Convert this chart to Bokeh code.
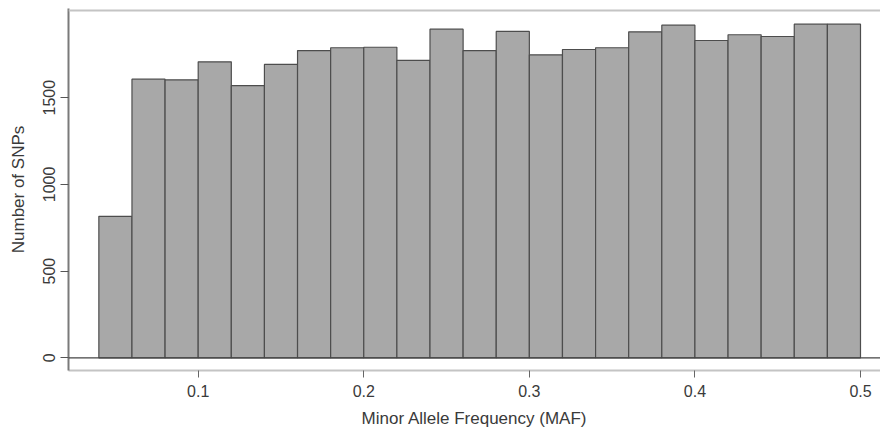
from bokeh.plotting import figure
from bokeh.models import Range1d, Span, FixedTicker
from bokeh.embed import file_html
from bokeh.resources import INLINE

# Histogram of minor allele frequency: bin edges and counts
bin_edges = [0.04, 0.06, 0.08, 0.10, 0.12, 0.14, 0.16, 0.18, 0.20, 0.22, 0.24, 0.26,
             0.28, 0.30, 0.32, 0.34, 0.36, 0.38, 0.40, 0.42, 0.44, 0.46, 0.48, 0.50]
snp_counts = [816, 1607, 1603, 1707, 1570, 1692, 1772, 1788, 1791, 1715, 1895, 1772,
              1882, 1747, 1778, 1788, 1880, 1918, 1830, 1863, 1853, 1924, 1924]
x_ticks = [0.1, 0.2, 0.3, 0.4, 0.5]
y_ticks = [0, 500, 1000, 1500]

FONT = "Liberation Sans"
TXT = "#3a3a3a"

p = figure(width=880, height=430, output_backend="svg", toolbar_location=None,
           x_range=Range1d(0.02167, 0.51208), y_range=Range1d(-73.2, 2014.4),
           min_border_left=68, min_border_right=0, min_border_top=8, min_border_bottom=60)
p.outline_line_color = None
p.grid.visible = False
p.background_fill_color = "white"
p.border_fill_color = "white"

p.quad(left=bin_edges[:-1], right=bin_edges[1:], bottom=0, top=snp_counts,
       fill_color="#a8a8a8", line_color="#4d4d4d", line_width=1.2)

p.add_layout(Span(location=0, dimension="width", line_color="#444444", line_width=1.2))
p.add_layout(Span(location=2003, dimension="width", line_color="#c4c4c4", line_width=2))

xa = p.xaxis[0]
xa.ticker = FixedTicker(ticks=x_ticks)
xa.axis_label = "Minor Allele Frequency (MAF)"
xa.axis_line_color = "#c4c4c4"
xa.axis_line_width = 2
xa.major_tick_line_color = "#666666"
xa.major_tick_in = 0
xa.major_tick_out = 7
xa.minor_tick_line_color = None
xa.major_label_standoff = 7
xa.major_label_text_font = FONT
xa.major_label_text_font_size = "16px"
xa.major_label_text_color = TXT
xa.axis_label_text_font = FONT
xa.axis_label_text_font_size = "17px"
xa.axis_label_text_font_style = "normal"
xa.axis_label_text_color = TXT
xa.axis_label_standoff = 9

ya = p.yaxis[0]
ya.ticker = FixedTicker(ticks=y_ticks)
ya.axis_label = "Number of SNPs"
ya.axis_line_color = "#7a7a7a"
ya.axis_line_width = 2
ya.major_tick_line_color = "#555555"
ya.major_tick_in = 0
ya.major_tick_out = 8
ya.minor_tick_line_color = None
ya.major_label_orientation = "vertical"
ya.major_label_standoff = 5
ya.major_label_text_font = FONT
ya.major_label_text_font_size = "16px"
ya.major_label_text_color = TXT
ya.axis_label_text_font = FONT
ya.axis_label_text_font_size = "17px"
ya.axis_label_text_font_style = "normal"
ya.axis_label_text_color = TXT
ya.axis_label_standoff = 13

open("out.html", "w").write(file_html(p, INLINE))
